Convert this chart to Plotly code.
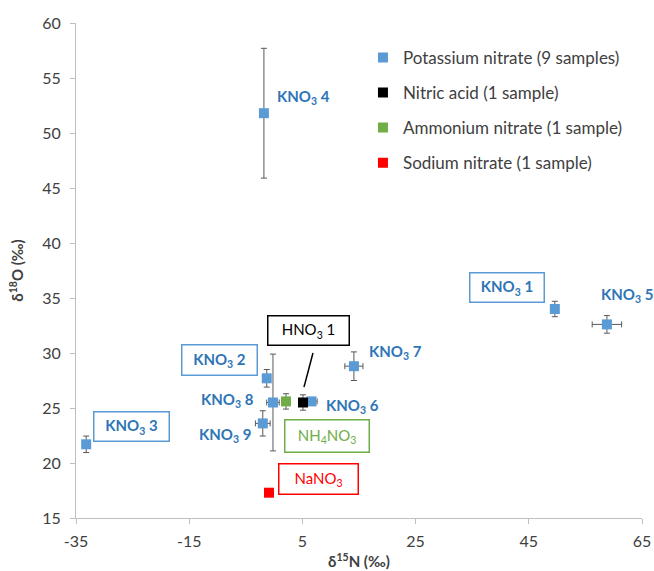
import plotly.graph_objects as go

# ---- data ----
kno3_names = ["KNO3 1", "KNO3 2", "KNO3 3", "KNO3 4", "KNO3 5", "KNO3 6", "KNO3 7", "KNO3 8", "KNO3 9"]
kno3_n15 = [49.6, -1.3, -33.2, -1.8, 58.8, 6.6, 14.1, -0.2, -2.0]
kno3_o18 = [34.0, 27.7, 21.7, 51.8, 32.6, 25.6, 28.8, 25.5, 23.6]
kno3_n15_err = [0.0, 0.0, 0.0, 0.0, 2.6, 1.0, 1.6, 1.1, 1.3]
kno3_o18_err = [0.7, 0.8, 0.75, 5.9, 0.8, 0.0, 1.3, 4.4, 1.15]

hno3_n15 = [5.1]
hno3_o18 = [25.5]
hno3_n15_err = [0.4]
hno3_o18_err = [0.7]

nh4no3_n15 = [2.1]
nh4no3_o18 = [25.6]
nh4no3_n15_err = [0.8]
nh4no3_o18_err = [0.7]

nano3_n15 = [-0.9]
nano3_o18 = [17.3]

legend_names = ["Potassium nitrate (9 samples)", "Nitric acid (1 sample)",
                "Ammonium nitrate (1 sample)", "Sodium nitrate (1 sample)"]

x_ticks = [-35, -15, 5, 25, 45, 65]
y_ticks = [15, 20, 25, 30, 35, 40, 45, 50, 55, 60]

BLUE = "#5B9BD5"
LABEL_BLUE = "#2E75B6"
GREEN = "#70AD47"
RED = "#FF0000"
ERR = "#595959"
TXT = "#404040"
FONT = "Lato"

fig = go.Figure()

def add(name, xs, ys, color, ex=None, ey=None, group=""):
    fig.add_trace(go.Scatter(
        x=xs, y=ys, mode="markers", name=name, legendgroup=group,
        marker=dict(symbol="square", size=10, color=color),
        error_x=dict(type="data", array=ex, visible=ex is not None, color=ERR, thickness=1, width=3),
        error_y=dict(type="data", array=ey, visible=ey is not None, color=ERR, thickness=1, width=3),
    ))

add(legend_names[0], kno3_n15, kno3_o18, BLUE, kno3_n15_err, kno3_o18_err, "g1")
add(legend_names[1], hno3_n15, hno3_o18, "#000000", hno3_n15_err, hno3_o18_err, "g2")
add(legend_names[2], nh4no3_n15, nh4no3_o18, GREEN, nh4no3_n15_err, nh4no3_o18_err, "g3")
add(legend_names[3], nano3_n15, nano3_o18, RED, None, None, "g4")

def k(n):
    return "KNO<sub>3</sub> " + str(n)

lab_font = dict(family=FONT, size=15, color=LABEL_BLUE)
annotations = []

# free labels, placed relative to their points
free = {  # index: (xanchor, xshift, yshift)
    3: ("left", 11, 16),
    4: ("center", 20, 29),
    6: ("left", 13, 14),
    5: ("left", 13, -5),
    7: ("right", -17, 3),
    8: ("right", -10, -12),
}
for i, (xa, xs, ys) in free.items():
    annotations.append(dict(x=kno3_n15[i], y=kno3_o18[i], xref="x", yref="y",
                            text="<b>" + k(i + 1) + "</b>", showarrow=False,
                            xanchor=xa, yanchor="middle", xshift=xs, yshift=ys,
                            font=lab_font))

# boxed labels
def box(x, y, text, color, border, w, h):
    annotations.append(dict(x=x, y=y, xref="x", yref="y", text=text, showarrow=False,
                            xanchor="center", yanchor="middle", width=w, height=h,
                            bordercolor=border, borderwidth=1.5, borderpad=0,
                            bgcolor="white",
                            font=dict(family=FONT, size=15, color=color)))

box(41.15, 35.91, "<b>" + k(1) + "</b>", LABEL_BLUE, BLUE, 73, 28)
box(-9.73, 29.32, "<b>" + k(2) + "</b>", LABEL_BLUE, BLUE, 74, 29)
box(-25.28, 23.36, "<b>" + k(3) + "</b>", LABEL_BLUE, BLUE, 74, 28)
box(5.99, 32.09, "HNO<sub>3</sub> 1", "#000000", "#000000", 80, 28)
box(9.26, 22.5, "NH<sub>4</sub>NO<sub>3</sub>", GREEN, GREEN, 83, 31)
box(7.93, 18.59, "NaNO<sub>3</sub>", RED, RED, 78, 29)

fig.add_shape(type="line", xref="x", yref="y", x0=6.87, y0=30.0, x1=5.28, y1=26.9,
              line=dict(color="#000000", width=1.5))

axis_common = dict(showline=True, linecolor="#BFBFBF", linewidth=1, ticks="outside",
                   tickcolor="#BFBFBF", ticklen=5, showgrid=False, zeroline=False,
                   automargin=False,
                   tickfont=dict(family=FONT, size=16, color=TXT))

fig.update_layout(
    width=654, height=571,
    margin=dict(l=76, r=12, t=23, b=53, autoexpand=False),
    paper_bgcolor="white", plot_bgcolor="white",
    font=dict(family=FONT),
    xaxis=dict(range=[-35, 65], tickvals=x_ticks, ticktext=[str(v) for v in x_ticks],
               ticklabelstandoff=4,
               title=dict(text="<b>δ<sup>15</sup>N (‰)</b>", standoff=7,
                          font=dict(family=FONT, size=15, color=TXT)),
               **axis_common),
    yaxis=dict(range=[15, 60], tickvals=y_ticks, ticktext=[str(v) for v in y_ticks],
               ticklabelstandoff=6,
               title=dict(text="<b>δ<sup>18</sup>O (‰)</b>", standoff=14,
                          font=dict(family=FONT, size=15, color=TXT)),
               **axis_common),
    legend=dict(x=0.507, y=0.966, xanchor="left", yanchor="top", bgcolor="rgba(0,0,0,0)",
                font=dict(family=FONT, size=17, color=TXT), tracegroupgap=10,
                itemwidth=30),
    annotations=annotations,
    showlegend=True,
)

# remove the default page margin so the figure fills the window exactly
fig.write_html("out.html", config={"displayModeBar": False},
               post_script="document.body.style.margin='0';")
